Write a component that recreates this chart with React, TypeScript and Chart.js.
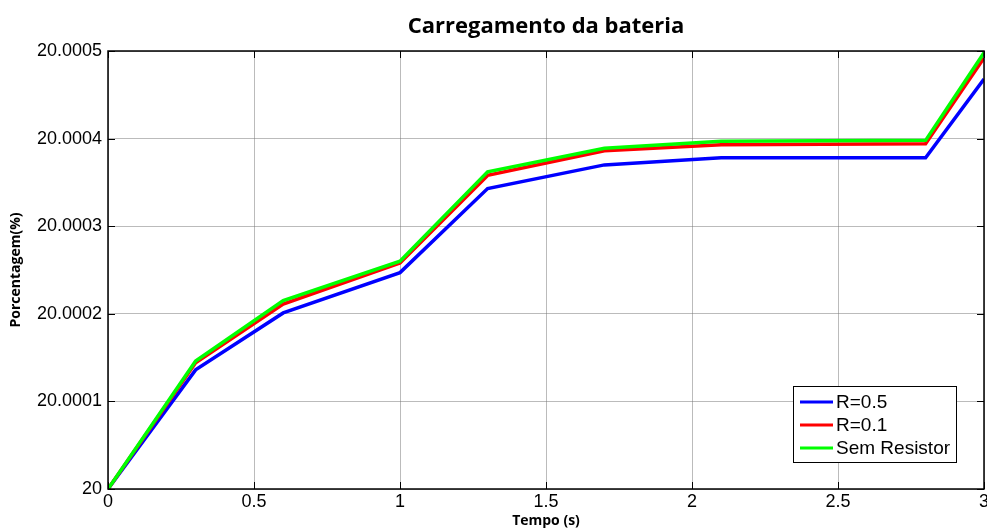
import React, { useEffect, useRef } from "react";
import { Chart, registerables } from "chart.js";

Chart.register(...registerables);

const titleText = "Carregamento da bateria";
const xTitle = "Tempo (s)";
const yTitle = "Porcentagem(%)";

const times = [0, 0.3, 0.6, 1.0, 1.3, 1.7, 2.1, 2.8, 3.0];
const r05 = [20.0, 20.000136, 20.000201, 20.000247, 20.000343, 20.00037, 20.000378, 20.000378, 20.000468];
const r01 = [20.0, 20.000144, 20.000211, 20.000258, 20.000358, 20.000386, 20.000393, 20.000394, 20.000492];
const semResistor = [20.0, 20.000146, 20.000215, 20.00026, 20.000362, 20.000389, 20.000397, 20.000398, 20.000498];

const seriesNames = ["R=0.5", "R=0.1", "Sem Resistor"];
const seriesColors = ["#0000ff", "#ff0000", "#00ff00"];

const TICK_FONT = "'Liberation Sans', Arial, sans-serif";

const framePlugin = {
  id: "frame",
  afterDatasetsDraw(chart: any) {
    const { ctx, chartArea } = chart;
    const { left, right, top, bottom } = chartArea;
    const xs = chart.scales.x;
    const ys = chart.scales.y;
    ctx.save();
    ctx.strokeStyle = "#000";
    ctx.lineWidth = 1;
    const tl = 7;
    ctx.beginPath();
    xs.ticks.forEach((t: any) => {
      const px = Math.round(xs.getPixelForValue(t.value)) + 0.5;
      ctx.moveTo(px, bottom);
      ctx.lineTo(px, bottom - tl);
      ctx.moveTo(px, top);
      ctx.lineTo(px, top + tl);
    });
    ys.ticks.forEach((t: any) => {
      const py = Math.round(ys.getPixelForValue(t.value)) + 0.5;
      ctx.moveTo(left, py);
      ctx.lineTo(left + tl, py);
      ctx.moveTo(right, py);
      ctx.lineTo(right - tl, py);
    });
    ctx.stroke();
    ctx.lineWidth = 1.5;
    ctx.strokeRect(left, top, right - left, bottom - top);

    // legend
    const bw = 163;
    const bh = 76;
    const bx = right - 28 - bw;
    const by = bottom - 27 - bh;
    ctx.fillStyle = "#fff";
    ctx.fillRect(bx, by, bw, bh);
    ctx.lineWidth = 1;
    ctx.strokeStyle = "#000";
    ctx.strokeRect(bx + 0.5, by + 0.5, bw, bh);
    ctx.font = `19px ${TICK_FONT}`;
    ctx.textBaseline = "middle";
    ctx.textAlign = "left";
    seriesNames.forEach((name, i) => {
      const cy = by + 16 + i * 23;
      ctx.strokeStyle = seriesColors[i];
      ctx.lineWidth = 3;
      ctx.beginPath();
      ctx.moveTo(bx + 7, cy);
      ctx.lineTo(bx + 40, cy);
      ctx.stroke();
      ctx.fillStyle = "#000";
      ctx.fillText(name, bx + 43, cy + 1);
    });
    ctx.restore();
  },
};

export default function App() {
  const ref = useRef<HTMLCanvasElement | null>(null);
  useEffect(() => {
    if (!ref.current) return;
    const seriesData = [r05, r01, semResistor];
    const orders = [2, 1, 0];
    const chart = new Chart(ref.current, {
      type: "line",
      data: {
        datasets: seriesData.map((vals, i) => ({
          label: seriesNames[i],
          data: times.map((t, j) => ({ x: t, y: vals[j] })),
          borderColor: seriesColors[i],
          backgroundColor: seriesColors[i],
          borderWidth: 3.5,
          pointRadius: 0,
          tension: 0,
          order: orders[i],
        })),
      },
      options: {
        animation: false,
        responsive: false,
        maintainAspectRatio: false,
        layout: { padding: { left: 0, right: 3, top: 0, bottom: 0 } },
        plugins: {
          legend: { display: false },
          tooltip: { enabled: false },
          title: {
            display: true,
            text: titleText,
            fullSize: false,
            color: "#000",
            font: { family: "'Open Sans', sans-serif", size: 22, weight: "bold", lineHeight: 1.2 },
            padding: { top: 14, bottom: 10.6 },
          },
        },
        scales: {
          x: {
            type: "linear",
            min: 0,
            max: 3,
            border: { display: false },
            grid: { color: "rgba(120,120,120,0.5)", lineWidth: 1, drawTicks: false },
            ticks: {
              stepSize: 0.5,
              color: "#000",
              padding: 2,
              maxRotation: 0,
              font: { family: TICK_FONT, size: 18 },
              callback: (v: any) => String(parseFloat(Number(v).toFixed(2))),
            },
            title: {
              display: true,
              text: xTitle,
              color: "#000",
              font: { family: "'Open Sans', sans-serif", size: 14, weight: "bold", lineHeight: 1.2 },
              padding: { top: 0, bottom: 2 },
            },
            afterFit: (s: any) => {
              s.height = 42;
              s.paddingLeft = 0;
              s.paddingRight = 0;
            },
          },
          y: {
            type: "linear",
            min: 20,
            max: 20.0005,
            border: { display: false },
            grid: { color: "rgba(120,120,120,0.5)", lineWidth: 1, drawTicks: false },
            ticks: {
              stepSize: 0.0001,
              color: "#000",
              padding: 6,
              font: { family: TICK_FONT, size: 18 },
              callback: (v: any) => String(parseFloat(Number(v).toFixed(4))),
            },
            title: {
              display: true,
              text: yTitle,
              color: "#000",
              font: { family: "'Open Sans', sans-serif", size: 14, weight: "bold", lineHeight: 1.2 },
              padding: { top: 8, bottom: 0 },
            },
            afterFit: (s: any) => {
              s.width = 108;
              s.paddingTop = 0;
              s.paddingBottom = 0;
            },
          },
        },
      },
      plugins: [framePlugin],
    });
    return () => chart.destroy();
  }, []);
  return (
    <div style={{ position: "absolute", left: 0, top: 0, width: 987, height: 531, background: "#fff" }}>
      <canvas ref={ref} width={987} height={531} style={{ display: "block", width: 987, height: 531 }} />
    </div>
  );
}
